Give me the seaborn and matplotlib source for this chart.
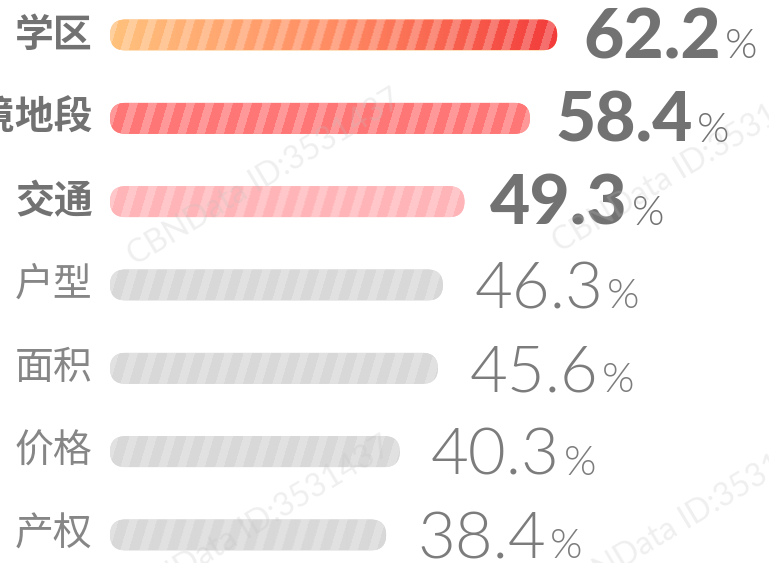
import numpy as np
import pandas as pd
import matplotlib
matplotlib.use("Agg")
import matplotlib.pyplot as plt
import matplotlib.colors as mcolors
from matplotlib.patches import FancyBboxPatch
from matplotlib import font_manager
from matplotlib.font_manager import FontProperties
import seaborn as sns

# ---- data ----
categories = ["学区", "环境地段", "交通", "户型", "面积", "价格", "产权"]
values = [62.2, 58.4, 49.3, 46.3, 45.6, 40.3, 38.4]
highlight = [True, True, True, False, False, False, False]
watermark = "CBNData ID:3531437"

# ---- styles ----
W, H, DPI = 769, 563, 100
PX_X = 7.19        # pixels per percentage point
PX_Y = 83.33       # pixels per category step
X0_PX = 110        # pixel position of value 0
Y0_PX = 35         # pixel centre of first bar
BAR_PX = 31

bar_fills = [
    ["#FFC27D", "#FF8B63", "#F23B3B"],
    ["#FF7676"],
    ["#FFB5B8"],
    ["#D8D8D8"], ["#D8D8D8"], ["#D8D8D8"], ["#D8D8D8"],
]
bold_color = "#727272"
light_color = "#7c7c7c"
light_label_color = "#868686"

sns.set_theme(style="white")
plt.rcParams["font.family"] = ["Noto Sans CJK SC", "DejaVu Sans"]


def pick_file(family, target, avoid=()):
    best, bd = None, 1e9
    for f in font_manager.fontManager.ttflist:
        if f.name != family:
            continue
        low = f.fname.lower()
        if "italic" in low:
            continue
        wv = f.weight if isinstance(f.weight, (int, float)) else 400
        d = abs(wv - target)
        if any(a in low for a in avoid):
            d += 150
        if d < bd:
            best, bd = f.fname, d
    return best


def props(family, target, size, avoid=("hairline", "thin")):
    fn = pick_file(family, target, avoid)
    if fn:
        fp = FontProperties(fname=fn, size=size)
        return fp
    return FontProperties(family="DejaVu Sans", size=size)


df = pd.DataFrame({"cat": categories, "val": values})

fig = plt.figure(figsize=(W / DPI, H / DPI), dpi=DPI)
ax = fig.add_axes([0, 0, 1, 1])
sns.barplot(data=df, x="val", y="cat", orient="h", width=BAR_PX / PX_Y,
            color="#D8D8D8", ax=ax)

xlim = (-X0_PX / PX_X, (W - X0_PX) / PX_X)
ylim = (len(categories) - 1 + (H - (Y0_PX + (len(categories) - 1) * PX_Y)) / PX_Y,
        -Y0_PX / PX_Y)


def make_fill(colors, wpx, hpx):
    cols = np.array([mcolors.to_rgb(c) for c in colors])
    xs = np.arange(wpx)
    ys = np.arange(hpx)
    if len(cols) == 1:
        base = np.tile(cols[0], (wpx, 1))
    else:
        stops = np.linspace(0, 1, len(cols))
        t = xs / max(wpx - 1, 1)
        base = np.stack([np.interp(t, stops, cols[:, k]) for k in range(3)], axis=1)
    img = np.tile(base[None, :, :], (hpx, 1, 1))
    X, Y = np.meshgrid(xs, ys)
    mask = ((X + 0.3 * Y) % 19) < 8.5
    light = img * 0.75 + 0.25
    img[mask] = light[mask]
    return img


bold_num = props("Lato", 900, 50)
light_num = props("Lato", 300, 47)
pct_font = props("Lato", 300, 30)
cjk_bold = FontProperties(family=["Noto Sans CJK SC", "DejaVu Sans"], weight="bold", size=28)
cjk_light = props("Noto Sans CJK SC", 300, 28, avoid=("thin",))

patches = list(ax.patches)
for i, p in enumerate(patches):
    x, y, w, h = p.get_x(), p.get_y(), p.get_width(), p.get_height()
    p.set_visible(False)
    box = FancyBboxPatch((x, y), w, h,
                         boxstyle=f"round,pad=0,rounding_size={h / 2 * PX_Y / PX_X}",
                         mutation_aspect=PX_X / PX_Y,
                         facecolor=bar_fills[i][0], edgecolor="none", zorder=2)
    ax.add_patch(box)
    wpx = int(round(w * PX_X))
    img = make_fill(bar_fills[i], wpx, BAR_PX)
    im = ax.imshow(img, extent=(x, x + w, y + h, y), origin="upper",
                   aspect="auto", interpolation="bilinear", zorder=3)
    im.set_clip_path(box)

    hl = highlight[i]
    # category label
    ax.annotate(categories[i], xy=(0, i), xytext=(-12.5, 0),
                textcoords="offset points", ha="right", va="center",
                fontproperties=cjk_bold if hl else cjk_light,
                color=bold_color if hl else light_label_color, zorder=4)
    # value
    num = ax.annotate(f"{values[i]:.1f}", xy=(values[i], i),
                      xytext=(18.5 if hl else 22.5, -16.8),
                      textcoords="offset points", ha="left", va="baseline",
                      fontproperties=bold_num if hl else light_num,
                      color=bold_color if hl else light_color, zorder=4)
    ax.annotate("%", xy=(1, i), xycoords=(num, "data"),
                xytext=(3, -16.8), textcoords="offset points",
                ha="left", va="baseline", fontproperties=pct_font,
                color=bold_color if hl else light_color, zorder=4)

ax.set_xlim(*xlim)
ax.set_ylim(*ylim)
ax.set_axis_off()

# faint watermarks
for cx, cy in [(265, 178), (255, 525), (690, 165), (695, 515)]:
    fig.text(cx / W, 1 - cy / H, watermark, rotation=31, ha="center",
             va="center", rotation_mode="anchor", fontsize=23,
             color="#c0c0c0", alpha=0.25, family=["Lato", "DejaVu Sans"],
             zorder=10)

fig.savefig("out.png", dpi=DPI, facecolor="white")
